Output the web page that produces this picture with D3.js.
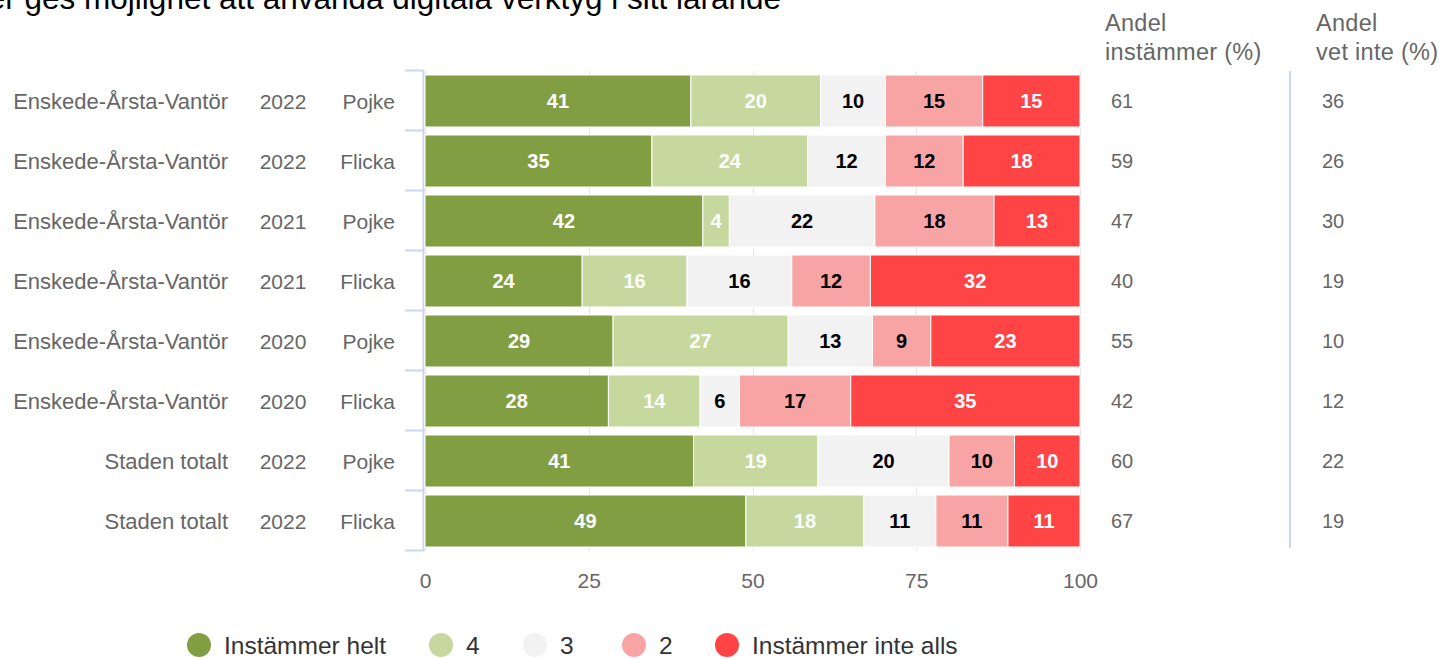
<!DOCTYPE html>
<html lang="sv">
<head>
<meta charset="utf-8">
<script src="https://cdn.jsdelivr.net/npm/d3@7"></script>
<style>
  html, body { margin: 0; padding: 0; background: #fff; }
  svg { display: block; font-family: "Liberation Sans", Arial, sans-serif; }
</style>
</head>
<body>
<svg id="chart" width="1439" height="659"></svg>
<script>
// ---- data ----
const areas   = ["Enskede-Årsta-Vantör", "Enskede-Årsta-Vantör", "Enskede-Årsta-Vantör", "Enskede-Årsta-Vantör",
                 "Enskede-Årsta-Vantör", "Enskede-Årsta-Vantör", "Staden totalt", "Staden totalt"];
const years   = ["2022", "2022", "2021", "2021", "2020", "2020", "2022", "2022"];
const genders = ["Pojke", "Flicka", "Pojke", "Flicka", "Pojke", "Flicka", "Pojke", "Flicka"];

const seriesNames = ["Instämmer helt", "4", "3", "2", "Instämmer inte alls"];
const helt     = [41, 35, 42, 24, 29, 28, 41, 49];
const fyra     = [20, 24, 4, 16, 27, 14, 19, 18];
const tre      = [10, 12, 22, 16, 13, 6, 20, 11];
const tva      = [15, 12, 18, 12, 9, 17, 10, 11];
const inteAlls = [15, 18, 13, 32, 23, 35, 10, 11];

const andelInstammer = [61, 59, 47, 40, 55, 42, 60, 67];
const andelVetInte   = [36, 26, 30, 19, 10, 12, 22, 19];

const xTicks = [0, 25, 50, 75, 100];
const title = "Elever ges möjlighet att använda digitala verktyg i sitt lärande";

// ---- styling ----
const colors = ["#829e43", "#c6d89d", "#f2f2f2", "#f9a4a4", "#fe4444"];
const labelColors = ["#ffffff", "#ffffff", "#000000", "#000000", "#ffffff"];
const axisColor = "#ccd6eb";
const textGray = "#666666";
const legendItemX = [199, 441, 535, 634, 727];

const svg = d3.select("#chart");

const plot = { left: 425, right: 1080, top: 71, bottom: 551 };

const rows = areas.map((a, i) => ({
  key: i, area: a, year: years[i], gender: genders[i],
  s0: helt[i], s1: fyra[i], s2: tre[i], s3: tva[i], s4: inteAlls[i]
}));
const keys = ["s0", "s1", "s2", "s3", "s4"];
const valueArrays = [helt, fyra, tre, tva, inteAlls];

// percent-normalised stacking
const stacked = d3.stack().keys(keys).offset(d3.stackOffsetExpand)(rows);

const x = d3.scaleLinear().domain([0, 1]).range([plot.left, plot.right]);
const xAxisScale = d3.scaleLinear().domain([0, 100]).range([plot.left, plot.right]);
const y = d3.scaleBand().domain(rows.map(r => r.key)).range([plot.top, plot.bottom])
  .paddingInner(8 / 60).paddingOuter(4 / 60);
const yBand = d3.scaleBand().domain(rows.map(r => r.key)).range([plot.top, plot.bottom]);

// vertical grid lines
svg.append("g").selectAll("line").data(xTicks).join("line")
  .attr("x1", d => Math.round(xAxisScale(d)) + 0.5).attr("x2", d => Math.round(xAxisScale(d)) + 0.5)
  .attr("y1", plot.top).attr("y2", plot.bottom)
  .attr("stroke", "#e6e6e6").attr("stroke-width", 1);

// left axis line with category ticks
const leftAxis = svg.append("g");
leftAxis.append("line")
  .attr("x1", plot.left - 1.5).attr("x2", plot.left - 1.5)
  .attr("y1", plot.top).attr("y2", plot.bottom)
  .attr("stroke", axisColor).attr("stroke-width", 2);
const tickYs = rows.map(r => yBand(r.key)).concat([plot.bottom]);
leftAxis.selectAll("line.tick").data(tickYs).join("line")
  .attr("class", "tick")
  .attr("x1", 405).attr("x2", plot.left - 1)
  .attr("y1", d => d - 0.5).attr("y2", d => d - 0.5)
  .attr("stroke", axisColor).attr("stroke-width", 2);

// stacked bars
const layers = svg.append("g").selectAll("g").data(stacked).join("g")
  .attr("fill", (d, i) => colors[i]);
layers.selectAll("rect").data(d => d).join("rect")
  .attr("x", d => x(d[0]))
  .attr("width", d => Math.max(0, x(d[1]) - x(d[0])))
  .attr("y", d => y(d.data.key))
  .attr("height", y.bandwidth())
  .attr("stroke", "#ffffff").attr("stroke-width", 1);

// value labels in segments
const labelLayers = svg.append("g").selectAll("g").data(stacked).join("g");
labelLayers.each(function (layer, li) {
  d3.select(this).selectAll("text").data(layer).join("text")
    .attr("x", d => (x(d[0]) + x(d[1])) / 2)
    .attr("y", d => y(d.data.key) + y.bandwidth() / 2)
    .attr("dy", "0.36em")
    .attr("text-anchor", "middle")
    .attr("font-size", 20).attr("font-weight", "bold")
    .attr("fill", labelColors[li])
    .text((d, i) => valueArrays[li][i]);
});

// category labels: area, year, gender
const catG = svg.append("g").attr("fill", textGray);
catG.selectAll("text.area").data(rows).join("text").attr("class", "area")
  .attr("x", 228).attr("y", d => yBand(d.key) + yBand.bandwidth() / 2).attr("dy", "0.36em")
  .attr("font-size", 22).attr("text-anchor", "end").text(d => d.area);
catG.selectAll("text.year").data(rows).join("text").attr("class", "year")
  .attr("x", 283).attr("y", d => yBand(d.key) + yBand.bandwidth() / 2).attr("dy", "0.36em")
  .attr("font-size", 21).attr("text-anchor", "middle").text(d => d.year);
catG.selectAll("text.gender").data(rows).join("text").attr("class", "gender")
  .attr("x", 395).attr("y", d => yBand(d.key) + yBand.bandwidth() / 2).attr("dy", "0.36em")
  .attr("font-size", 21).attr("text-anchor", "end").text(d => d.gender);

// bottom axis labels
const xAxis = d3.axisBottom(xAxisScale).tickValues(xTicks).tickSize(0).tickPadding(0);
const xAxisG = svg.append("g").attr("transform", `translate(0, ${plot.bottom})`).call(xAxis);
xAxisG.select(".domain").remove();
xAxisG.selectAll("text").attr("font-size", 21).attr("fill", textGray)
  .attr("font-family", "'Liberation Sans', Arial, sans-serif")
  .attr("y", 37).attr("dy", 0);

// extra columns on the right
const colG = svg.append("g").attr("fill", textGray);
colG.append("line")
  .attr("x1", 1290).attr("x2", 1290).attr("y1", plot.top).attr("y2", 548)
  .attr("stroke", axisColor).attr("stroke-width", 2);

function header(xPos, lines) {
  const t = colG.append("text").attr("x", xPos).attr("font-size", 23.5).attr("letter-spacing", 0.3);
  lines.forEach((l, i) => t.append("tspan").attr("x", xPos).attr("y", 31 + i * 29).text(l));
}
header(1105, ["Andel", "instämmer (%)"]);
header(1316, ["Andel", "vet inte (%)"]);

colG.selectAll("text.inst").data(andelInstammer).join("text").attr("class", "inst")
  .attr("x", 1111).attr("y", (d, i) => yBand(i) + yBand.bandwidth() / 2).attr("dy", "0.36em")
  .attr("font-size", 20).text(d => d);
colG.selectAll("text.vet").data(andelVetInte).join("text").attr("class", "vet")
  .attr("x", 1322).attr("y", (d, i) => yBand(i) + yBand.bandwidth() / 2).attr("dy", "0.36em")
  .attr("font-size", 20).text(d => d);

// title (runs off the left edge)
svg.append("text")
  .attr("x", 781).attr("y", 9)
  .attr("text-anchor", "end")
  .attr("font-size", 31.5).attr("fill", "#000")
  .text(title);

// legend
const legend = svg.append("g").attr("transform", "translate(0, 645)");
seriesNames.forEach((name, i) => {
  const item = legend.append("g").attr("transform", `translate(${legendItemX[i]}, 0)`);
  item.append("circle").attr("r", 12).attr("fill", colors[i]);
  item.append("text").attr("x", 25).attr("dy", "0.36em")
    .attr("font-size", 24.5).attr("fill", "#333333").text(name);
});
</script>
</body>
</html>
